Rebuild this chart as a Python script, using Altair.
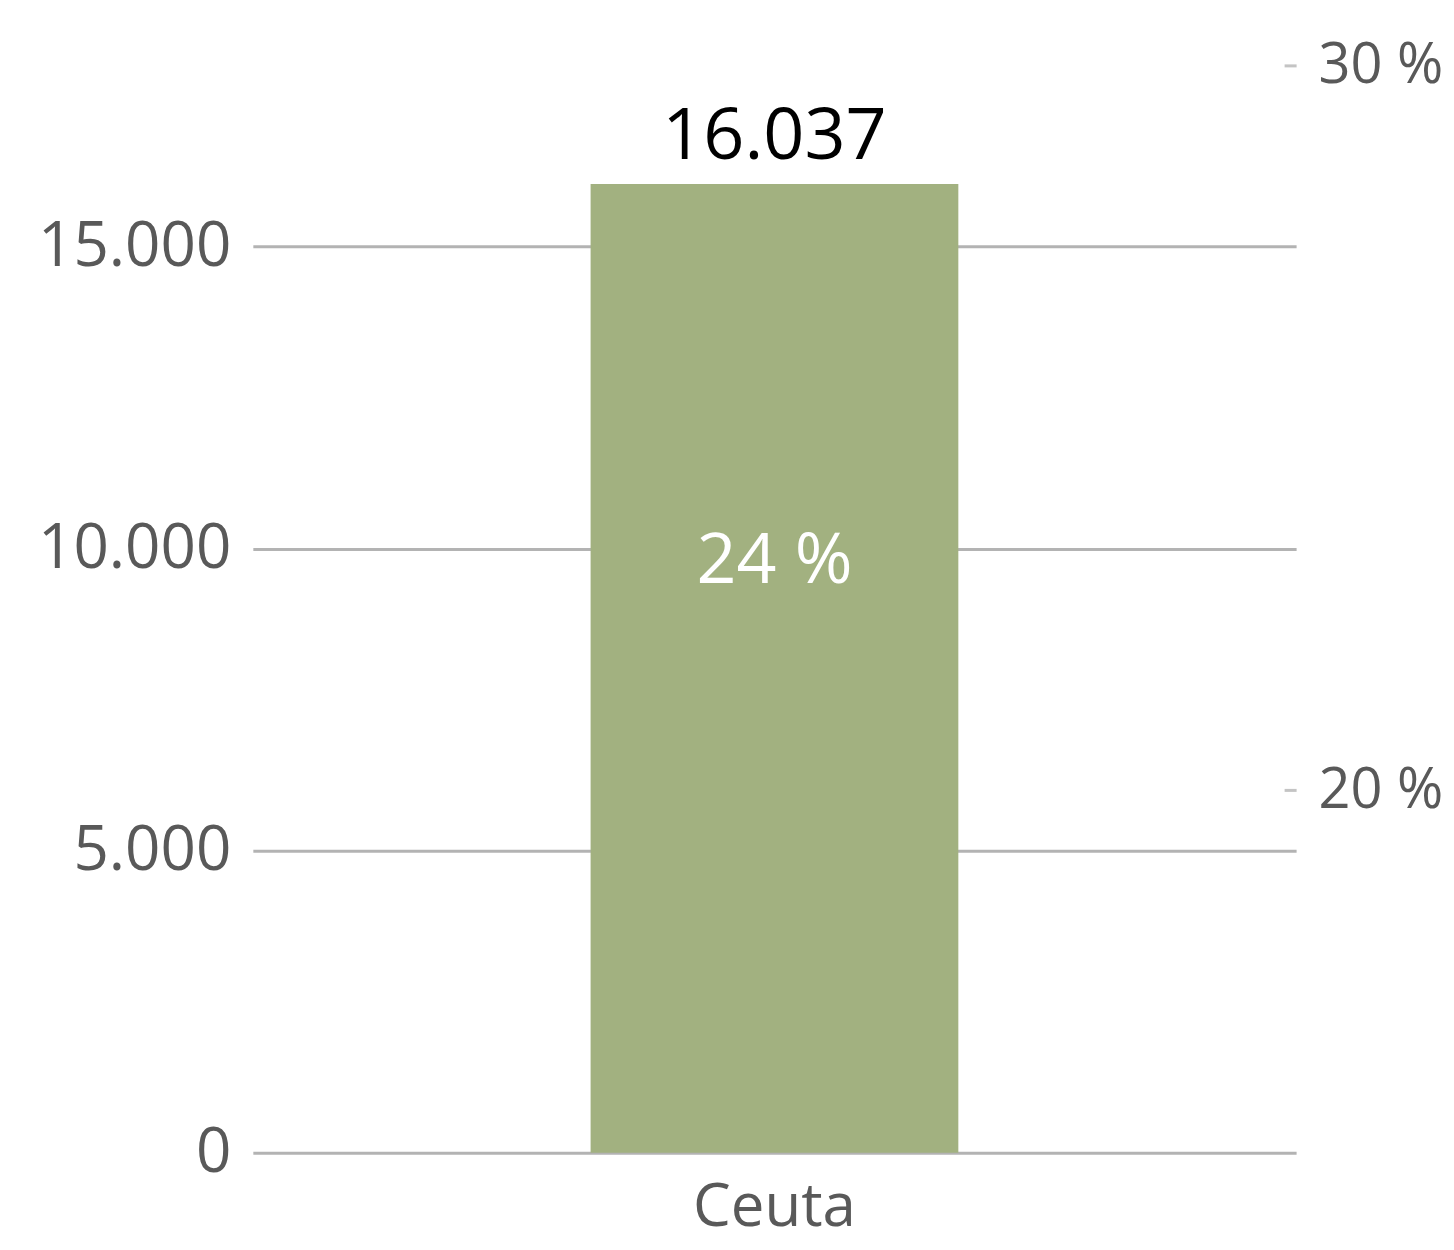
import altair as alt
import pandas as pd

categories = ["Ceuta"]
values = [16037]
shares = [0.24]
left_ticks = [0, 5000, 10000, 15000]
right_ticks = [0.20, 0.30]

df = pd.DataFrame({
    "cat": categories,
    "value": values,
    "share": shares,
    "value_label": ["16.037"],
    "share_label": ["24 %"],
})

FONT = "Open Sans"
GREY = "#595959"

x_enc = alt.X("cat:N", title=None, axis=alt.Axis(
    labelFontSize=60, labelColor=GREY, labelFont=FONT, ticks=False,
    domain=False, labelPadding=26, labelAngle=0, grid=False, labelLimit=0))

y_left = alt.Y("value:Q", title=None,
               scale=alt.Scale(domain=[0, 18000], nice=False, zero=True),
               axis=alt.Axis(values=left_ticks, labelFontSize=62, labelColor=GREY,
                             labelFont=FONT, ticks=False, domain=False, labelLimit=0,
                             labelPadding=22, grid=True, gridColor="#b3b3b3",
                             gridWidth=3,
                             labelExpr="replace(format(datum.value, ',d'), ',', '.')"))

bars = alt.Chart(df).mark_bar(color="#A2B180", size=368).encode(x=x_enc, y=y_left)

value_text = alt.Chart(df).mark_text(
    font=FONT, fontSize=72, color="#000000", baseline="bottom", dy=-10
).encode(x=alt.X("cat:N"), y=alt.Y("value:Q"), text="value_label:N")

left = alt.layer(bars, value_text)

share_text = alt.Chart(df).mark_text(
    font=FONT, fontSize=70, color="#ffffff", baseline="middle", dy=62
).encode(
    x=alt.X("cat:N"),
    y=alt.Y("share:Q", title=None,
            scale=alt.Scale(domain=[0.15, 0.30], nice=False, zero=False),
            axis=alt.Axis(orient="right", values=right_ticks, labelFontSize=56,
                          labelColor=GREY, labelFont=FONT, domain=False, labelLimit=0,
                          ticks=True, tickSize=12, tickWidth=3, tickColor="#c4c4c4",
                          offset=-12, labelPadding=22, grid=False,
                          labelExpr="format(datum.value * 100, 'd') + ' %'")),
    text="share_label:N",
)

chart = alt.layer(left, share_text).resolve_scale(y="independent").properties(
    width=1044, height=1088,
    autosize=alt.AutoSizeParams(type="none"),
    padding={"left": 245, "top": 57, "right": 150, "bottom": 96},
).configure_view(stroke=None)

chart.save("out.html", embed_options={"renderer": "svg", "actions": False})
